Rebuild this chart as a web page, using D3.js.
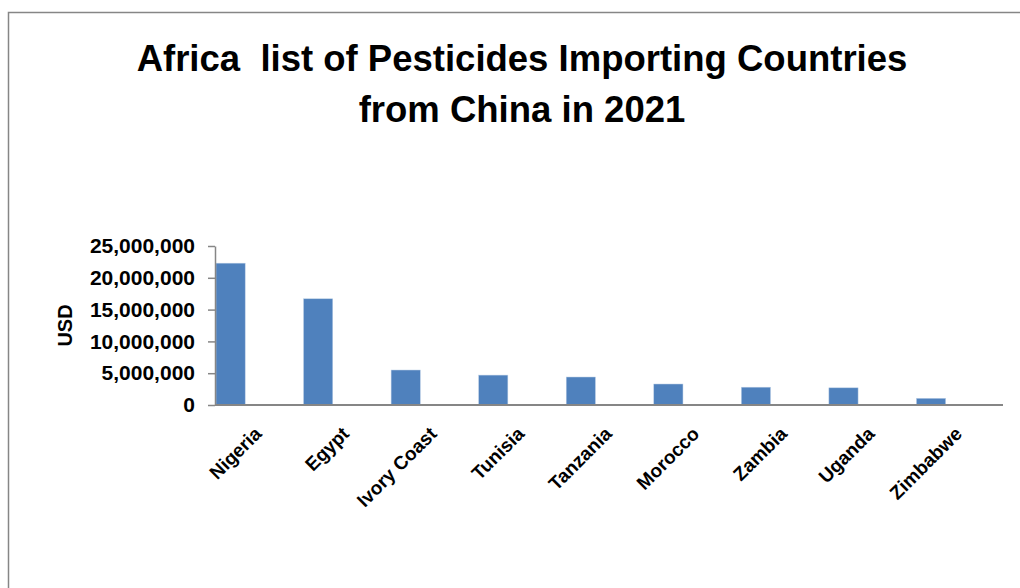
<!DOCTYPE html>
<html>
<head>
<meta charset="utf-8">
<script src="https://cdn.jsdelivr.net/npm/d3@7"></script>
<style>
  body { margin: 0; background: #fff; }
  text { font-family: "Liberation Sans", Arial, sans-serif; font-weight: bold; fill: #000; }
  .title { white-space: pre; }
</style>
</head>
<body>
<div id="chart"></div>
<script>
// chart data
const countries = ["Nigeria", "Egypt", "Ivory Coast", "Tunisia", "Tanzania", "Morocco", "Zambia", "Uganda", "Zimbabwe"];
const imports = [22300000, 16700000, 5500000, 4700000, 4400000, 3300000, 2800000, 2700000, 1050000];
const yTicks = [0, 5000000, 10000000, 15000000, 20000000, 25000000];
const titleLines = ["Africa  list of Pesticides Importing Countries", "from China in 2021"];

const width = 1020, height = 588;
const margin = { top: 246, right: 17, bottom: 183, left: 215 };

const svg = d3.select("#chart").append("svg")
    .attr("width", width)
    .attr("height", height);

// outer frame of the chart area
svg.append("rect")
    .attr("x", 8.5)
    .attr("y", 12.5)
    .attr("width", 1100)
    .attr("height", 700)
    .attr("fill", "none")
    .attr("stroke", "#868686")
    .attr("stroke-width", 1.5);

// title, two lines
svg.selectAll(".title")
    .data(titleLines)
    .enter().append("text")
    .attr("class", "title")
    .attr("x", 522)
    .attr("y", (d, i) => 71 + i * 51)
    .attr("text-anchor", "middle")
    .attr("font-size", "36.5px")
    .text(d => d);

const x = d3.scaleBand()
    .domain(countries)
    .range([margin.left, width - margin.right]);

const y = d3.scaleLinear()
    .domain([0, 25000000])
    .range([height - margin.bottom, margin.top]);

// bars sit in the left part of each category slot
const barW = x.bandwidth() / 3;
svg.selectAll(".bar")
    .data(countries)
    .enter().append("rect")
    .attr("class", "bar")
    .attr("x", d => x(d) + 1)
    .attr("y", (d, i) => y(imports[i]))
    .attr("width", barW)
    .attr("height", (d, i) => y(0) - y(imports[i]))
    .attr("fill", "#4F81BD")
    .attr("stroke", "#B9CDE5")
    .attr("stroke-width", 0.5);

// y axis
const yAxis = svg.append("g")
    .attr("transform", `translate(${margin.left},0)`)
    .call(d3.axisLeft(y).tickValues(yTicks).tickSize(7).tickSizeOuter(0).tickFormat(d3.format(",")).tickPadding(13));
yAxis.selectAll("path, line").attr("stroke", "#868686").attr("stroke-width", 1.5);
yAxis.selectAll("text")
    .attr("font-size", "21px")
    .attr("font-family", null)
    .style("font-family", "'Liberation Sans', Arial, sans-serif")
    .attr("fill", "#000");

// x axis line
svg.append("line")
    .attr("x1", margin.left)
    .attr("x2", width - margin.right)
    .attr("y1", y(0))
    .attr("y2", y(0))
    .attr("stroke", "#868686")
    .attr("stroke-width", 2);

// rotated category labels
svg.selectAll(".xlabel")
    .data(countries)
    .enter().append("text")
    .attr("class", "xlabel")
    .attr("text-anchor", "end")
    .attr("font-size", "19px")
    .attr("transform", d => `translate(${x(d) + x.bandwidth() / 2 + 4},${y(0) + 30}) rotate(-45)`)
    .text(d => d);

// y axis title
svg.append("text")
    .attr("text-anchor", "middle")
    .attr("font-size", "20px")
    .attr("transform", `translate(72,${(y(0) + y(25000000)) / 2}) rotate(-90)`)
    .text("USD");
</script>
</body>
</html>
